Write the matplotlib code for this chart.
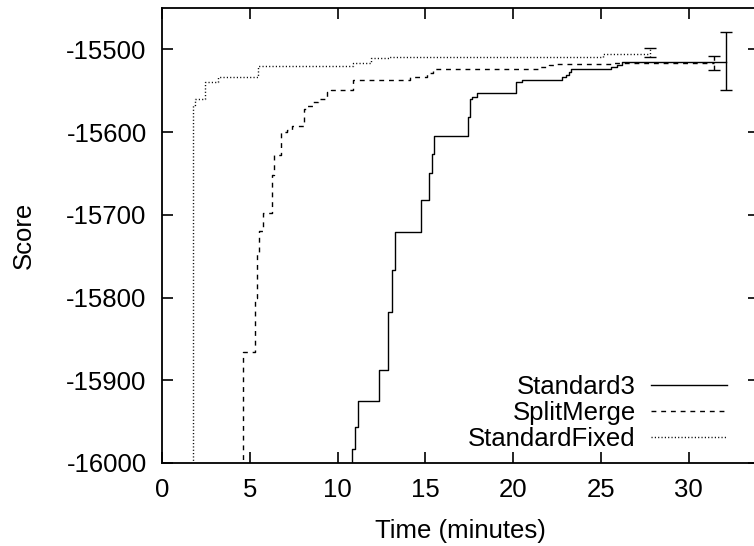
import matplotlib
matplotlib.use("Agg")
import matplotlib.pyplot as plt

plt.rcParams["font.family"] = ["Liberation Sans", "DejaVu Sans"]
plt.rcParams["axes.unicode_minus"] = False

# step curves: time (minutes) where the best score changes, and the new score
std3_t = [10.82, 10.82, 11.0, 11.15, 12.36, 12.87, 13.1, 13.27, 14.76, 15.2, 15.35,
          15.5, 17.44, 17.53, 17.66, 17.95, 20.14, 20.48, 22.8, 23.0, 23.2, 23.3,
          25.56, 25.9, 26.2, 32.1]
std3_s = [-16200, -15983, -15956, -15925, -15887, -15817, -15767, -15721, -15682, -15649, -15627,
          -15605, -15582, -15560, -15557, -15553, -15539, -15537, -15533, -15531, -15527, -15524,
          -15521, -15519, -15515, -15515]

split_t = [4.64, 4.64, 5.3, 5.42, 5.5, 5.74, 6.26, 6.4, 6.8, 7.1, 7.4, 8.1, 8.25,
           8.6, 8.9, 9.4, 9.6, 10.9, 14.1, 15.1, 15.45, 21.5, 22.05, 22.3, 25.55, 31.45]
split_s = [-16200, -15866, -15800, -15745, -15720, -15698, -15652, -15628, -15600, -15598, -15593, -15572, -15568,
           -15564, -15560, -15552, -15549, -15537, -15534, -15529, -15524, -15521, -15519, -15518, -15516, -15516]

fixed_t = [1.79, 1.79, 1.88, 2.45, 3.2, 5.44, 10.86, 11.9, 12.95, 25.1, 27.8]
fixed_s = [-16200, -15567, -15560, -15539, -15533, -15520, -15517, -15510, -15509, -15506, -15506]

# final mean +- error bars
err_x = [32.1, 31.45, 27.8]
err_y = [-15514.5, -15516.5, -15503.5]
err_e = [35, 8.5, 5.5]

labels = ["Standard3", "SplitMerge", "StandardFixed"]
xticks = [0, 5, 10, 15, 20, 25, 30]
yticks = [-16000, -15900, -15800, -15700, -15600, -15500]

fs = 18.5
fig = plt.figure(figsize=(7.54, 5.46), dpi=100)
ax = fig.add_axes([162 / 754, 83 / 546, 597 / 754, 455 / 546])

styles = [dict(ls="-"), dict(dashes=(3.5, 3.5)), dict(dashes=(0.8, 1.6))]
series = [(std3_t, std3_s), (split_t, split_s), (fixed_t, fixed_s)]
for (t, s), st, lab in zip(series, styles, labels):
    ax.plot(t, s, drawstyle="steps-post", color="k", lw=1.0, label=lab, **st)

for i, st in enumerate(styles):
    eb = ax.errorbar([err_x[i]], [err_y[i]], yerr=[err_e[i]], fmt="none", ecolor="k",
                     elinewidth=1.0, capsize=4.5, capthick=1.0)
    if "dashes" in st:
        eb[2][0].set_linestyle((0, st["dashes"]))

ax.set_xlim(0, 34)
ax.set_ylim(-16000, -15450)
ax.set_xticks(xticks)
ax.set_yticks(yticks)
ax.tick_params(direction="in", length=8, width=1.2, top=True, right=True, labelsize=fs)
ax.tick_params(axis="y", pad=11)
ax.tick_params(axis="x", pad=11)
for sp in ax.spines.values():
    sp.set_linewidth(1.3)

ax.set_xlabel("Time (minutes)", fontsize=fs, labelpad=12)
ax.set_ylabel("Score", fontsize=fs, labelpad=22)

ax.legend(loc="lower right", bbox_to_anchor=(727 / 754, 95 / 546), bbox_transform=fig.transFigure,
          frameon=False, markerfirst=False, fontsize=fs, handlelength=2.95, handletextpad=0.6,
          labelspacing=0.08, borderpad=0, borderaxespad=0)

fig.savefig("out.png", dpi=100)
